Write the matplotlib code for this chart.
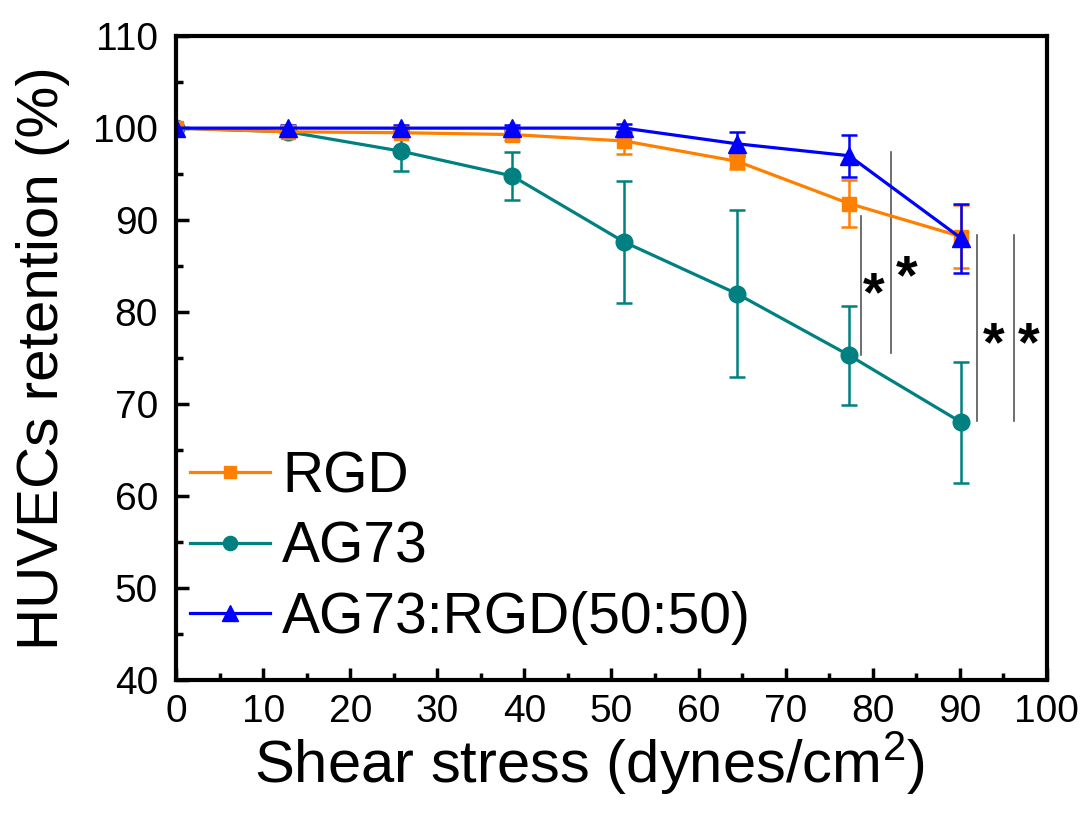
import matplotlib
matplotlib.use('Agg')
import matplotlib.pyplot as plt
from matplotlib.ticker import MultipleLocator

plt.rcParams['font.family'] = ['Liberation Sans', 'DejaVu Sans']
plt.rcParams['mathtext.fontset'] = 'custom'
plt.rcParams['mathtext.rm'] = 'Liberation Sans'
plt.rcParams['mathtext.it'] = 'Liberation Sans'

# data
shear = [0, 12.9, 25.8, 38.6, 51.5, 64.4, 77.3, 90.2]
rgd = [100, 99.6, 99.5, 99.3, 98.6, 96.4, 91.8, 88.2]
rgd_err = [0.2, 0.4, 0.5, 0.6, 1.4, 0.8, 2.6, 3.4]
ag73 = [100, 99.6, 97.5, 94.8, 87.6, 82.0, 75.3, 68.0]
ag73_err = [0.2, 0.5, 2.2, 2.6, 6.6, 9.1, 5.4, 6.6]
mix = [100, 100, 100, 100, 100, 98.3, 97.0, 88.0]
mix_err = [0.2, 0.3, 0.3, 0.3, 0.4, 1.3, 2.3, 3.8]

# significance bars: x, low, high, star position
sig_x = [78.7, 82.1, 92.0, 96.2]
sig_lo = [75.3, 75.5, 68.2, 68.2]
sig_hi = [90.4, 97.4, 88.4, 88.4]
star_x = [80.1, 83.9, 93.9, 97.9]
star_y = [81.7, 83.6, 76.3, 76.3]

fig = plt.figure(figsize=(10.87, 8.16), dpi=100)
ax = fig.add_axes([0.162, 0.1667, 0.801, 0.789])

series = [
    (ag73, ag73_err, '#008080', 'o', 12, 'AG73'),
    (rgd, rgd_err, '#FF7F00', 's', 10, 'RGD'),
    (mix, mix_err, '#0000FF', '^', 13, 'AG73:RGD(50:50)'),
]
handles = {}
for y, err, c, m, ms, lab in series:
    eb = ax.errorbar(shear, y, yerr=err, color=c, marker=m, markersize=ms,
                     linewidth=2.3, elinewidth=1.8, capsize=5.5, capthick=1.8,
                     label=lab)
    handles[lab] = eb.lines[0]

for x, lo, hi in zip(sig_x, sig_lo, sig_hi):
    ax.plot([x, x], [lo, hi], color='#555555', linewidth=1.2)
for x, y in zip(star_x, star_y):
    ax.text(x, y, '*', fontsize=40, fontweight='bold', ha='center', va='center')

order = ['RGD', 'AG73', 'AG73:RGD(50:50)']
ax.legend([handles[k] for k in order], order, loc='upper left',
          bbox_to_anchor=(0.016, 0.357), frameon=False, fontsize=41,
          borderpad=0, borderaxespad=0,
          handlelength=1.4, handletextpad=0.22, labelspacing=0.29,
          markerscale=0.85)

ax.set_xlim(0, 100)
ax.set_ylim(40, 110)
ax.xaxis.set_major_locator(MultipleLocator(10))
ax.xaxis.set_minor_locator(MultipleLocator(5))
ax.yaxis.set_major_locator(MultipleLocator(10))
ax.yaxis.set_minor_locator(MultipleLocator(5))
ax.tick_params(which='both', direction='in', width=2.5, top=False, right=False)
ax.tick_params(which='major', length=9)
ax.tick_params(which='minor', length=5)
ax.tick_params(axis='both', labelsize=28)
ax.tick_params(axis='y', pad=13)
ax.tick_params(axis='x', pad=10)
for s in ax.spines.values():
    s.set_linewidth(3)

ax.set_xlabel('Shear stress (dynes/cm$^2$)', fontsize=43)
ax.xaxis.set_label_coords(0.475, -0.077, transform=ax.transAxes)
ax.set_ylabel('HUVECs retention (%)', fontsize=42, labelpad=17)

fig.savefig('out.png', dpi=100)
